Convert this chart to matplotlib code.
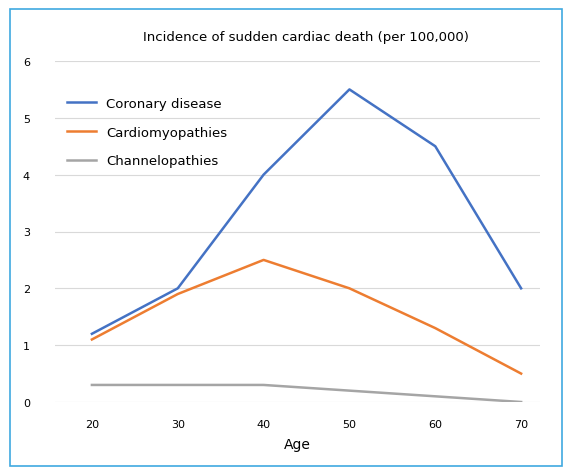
import matplotlib
matplotlib.use("Agg")
import matplotlib.pyplot as plt
from matplotlib.patches import Rectangle

ages = [20, 30, 40, 50, 60, 70]
coronary = [1.2, 2.0, 4.0, 5.5, 4.5, 2.0]
cardio = [1.1, 1.9, 2.5, 2.0, 1.3, 0.5]
channel = [0.3, 0.3, 0.3, 0.2, 0.1, 0.0]
labels = ["Coronary disease", "Cardiomyopathies", "Channelopathies"]
colors = ["#4472C4", "#ED7D31", "#A5A5A5"]

fig = plt.figure(figsize=(5.72, 4.77), dpi=100)
fig.patches.append(Rectangle((10/572, 10/477), 552/572, 457/477, transform=fig.transFigure,
                             fill=False, edgecolor="#3FA9E0", linewidth=1.2))
ax = fig.add_axes([55/572, 1-403/477, 485/572, 341/477])
for y, c, l in zip([coronary, cardio, channel], colors, labels):
    ax.plot(ages, y, color=c, linewidth=1.8, label=l)
ax.set_xlim(15.7, 72.2)
ax.set_ylim(0, 6)
ax.set_xticks(ages)
ax.set_yticks(range(7))
ax.tick_params(length=0, labelsize=8, pad=12)
ax.tick_params(axis="y", pad=18)
ax.grid(axis="y", color="#D9D9D9", linewidth=0.8)
ax.set_axisbelow(True)
for s in ax.spines.values():
    s.set_visible(False)
ax.set_xlabel("Age", fontsize=10, labelpad=6)
fig.text(0.535, 1-38/477, "Incidence of sudden cardiac death (per 100,000)", ha="center", va="center", fontsize=9.5)
ax.legend(loc="upper left", bbox_to_anchor=(0.0, 0.93), frameon=False, fontsize=9.5,
          handlelength=2.2, labelspacing=1.2)
fig.savefig("out.png", dpi=100)
